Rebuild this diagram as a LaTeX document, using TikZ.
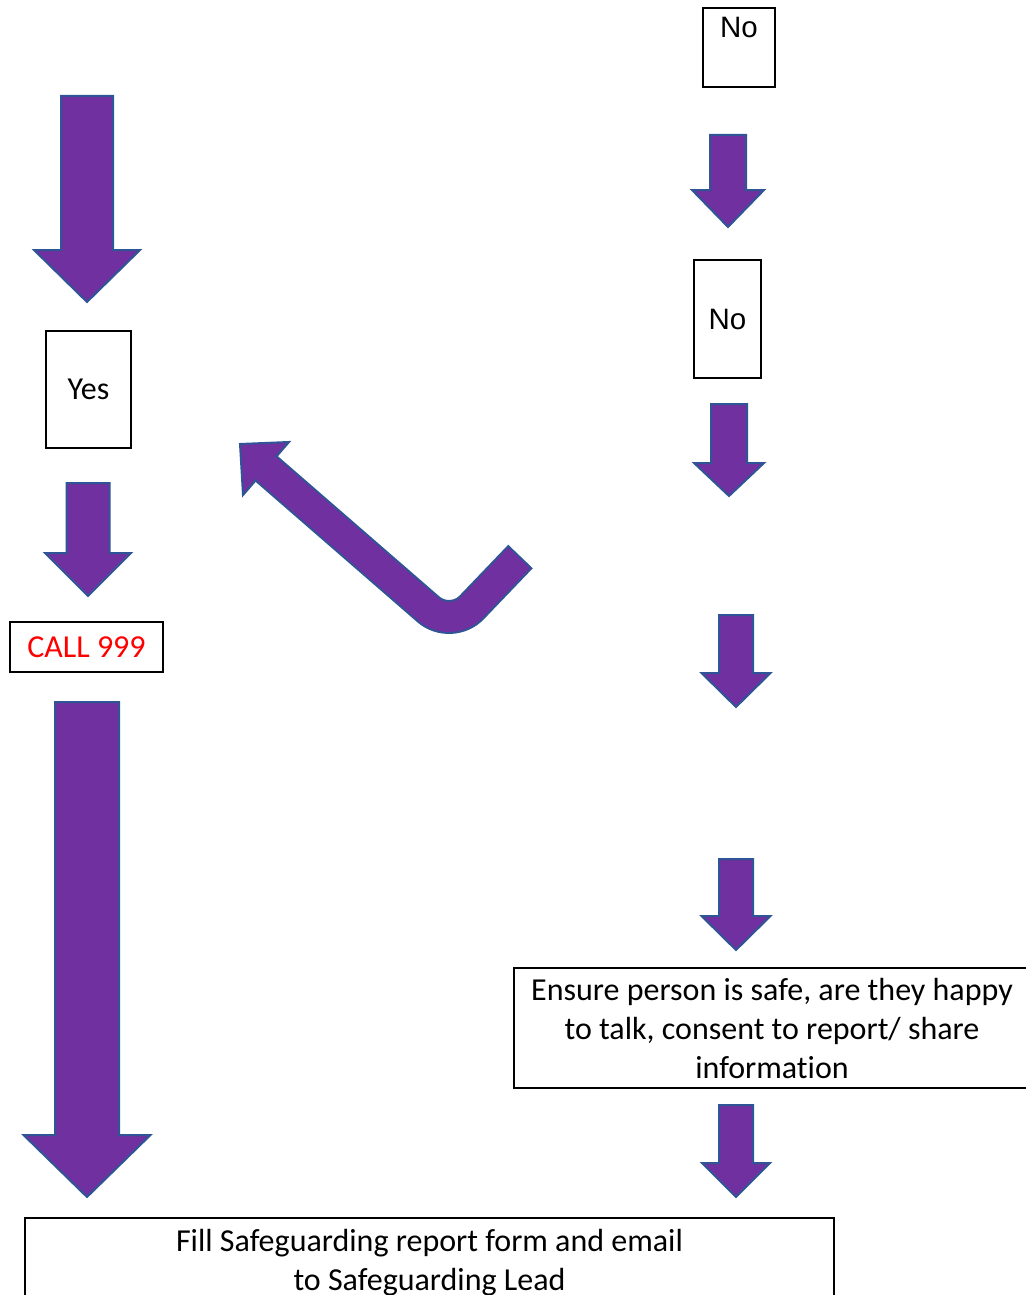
\documentclass[tikz,border=0pt]{standalone}
\usepackage{fontspec}
\setmainfont{Carlito}[Ligatures=NoCommon]
\newfontfamily\arialfont{Liberation Sans}
\usepackage{tikz}
\usetikzlibrary{calc}
\definecolor{arrowfill}{HTML}{7030A0}
\definecolor{arrowedge}{HTML}{2F5597}

\begin{document}
\begin{tikzpicture}[x=1pt,y=-1pt,
    box/.style={draw=black, line width=2pt, inner sep=0pt, align=center,
                font=\fontsize{32}{39}\selectfont},
    nobox/.style={box, font=\arialfont\fontsize{29.5}{35}\selectfont},
    blockarrow/.style={fill=arrowfill, draw=arrowedge, line width=2pt, line join=miter}]
    \useasboundingbox (0,0) rectangle (1025,1295);

    % text boxes
    \node[nobox, anchor=north, minimum width=72pt, text height=30pt, text depth=49pt] (notop) at (739,7) {No};
    \node[nobox, minimum width=67pt, minimum height=118pt] (nomid) at (727.5,319) {No};
    \node[box, minimum width=85pt, minimum height=117pt] (yes) at (88.5,389.5) {Yes};
    \node[box, text=red, minimum width=153pt, minimum height=50pt] (call) at (86.5,647) {CALL 999};
    \node[box, minimum width=516pt, minimum height=120pt] (ensure) at (772,1028)
        {Ensure person is safe, are they happy\\ to talk, consent to report/ share\\ information};
    \node[box, minimum width=809pt, minimum height=90pt] (report) at (429.5,1263)
        {Fill Safeguarding report form and email\\ to Safeguarding Lead};

    % straight block arrows: centre / top / half shaft / half head / head base / tip
    \foreach \x/\ya/\s/\h/\yb/\yt in {87/96/26/53/250/302, 88/483/21.5/43/553/596,
                                      87/702/32/63.5/1135/1197,
                                      728/135/18/36/190/227, 729/404/18/35/463/496,
                                      736/615/17/34.5/673/707, 736/859/17/34.5/916/950,
                                      736/1105/17/34/1163/1197}
     \draw[blockarrow] (\x-\s,\ya) -- (\x+\s,\ya) -- (\x+\s,\yb) -- (\x+\h,\yb)
        -- (\x,\yt) -- (\x-\h,\yb) -- (\x-\s,\yb) -- cycle;

    % bent arrow back to yes
    \coordinate (benttip) at (240,444);
    \coordinate (bentbase) at (265,467.5);
    \coordinate (bentcorner) at (451,629);
    \coordinate (bentend) at (520.5,556.5);
    \draw[blockarrow] (benttip) -- (289,442) -- (243,495) -- cycle;
    \draw[arrowedge, line width=34pt, rounded corners=30pt] (bentbase) -- (bentcorner) -- (bentend);
    \draw[arrowfill, line width=30pt, rounded corners=30pt, shorten >=2pt] (bentbase) -- (bentcorner) -- (bentend);
\end{tikzpicture}
\end{document}
